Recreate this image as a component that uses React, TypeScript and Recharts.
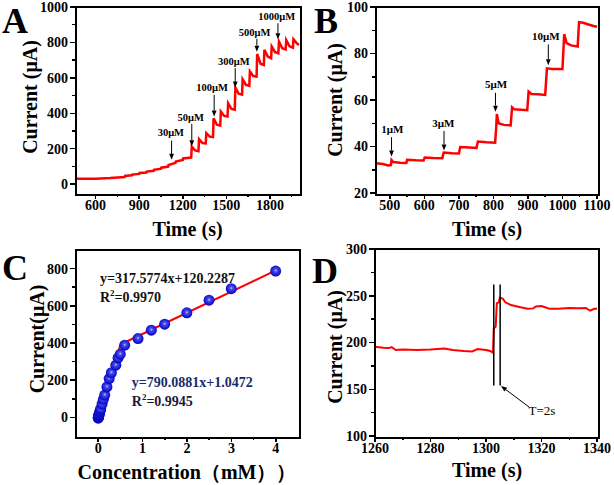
import React from 'react';
import {
  LineChart,
  ComposedChart,
  Line,
  Scatter,
  XAxis,
  YAxis,
  ReferenceLine,
  ReferenceDot,
} from 'recharts';

const SERIF = "'Times New Roman', 'Liberation Serif', 'DejaVu Serif', serif";
const RED = '#ff0000';

// ---------------- Panel A ----------------
const timeA = [465, 600, 700, 800, 802, 850, 852, 900, 902, 950, 952, 1000, 1002, 1050, 1052, 1100, 1102, 1150, 1152, 1200, 1202, 1258, 1262, 1285, 1308, 1312, 1335, 1358, 1362, 1385, 1408, 1412, 1435, 1458, 1462, 1485, 1508, 1512, 1535, 1558, 1562, 1585, 1608, 1612, 1635, 1658, 1662, 1685, 1708, 1712, 1735, 1758, 1762, 1785, 1808, 1812, 1835, 1858, 1862, 1885, 1908, 1912, 1935, 1958, 1962, 1985, 2000];
const currentA = [30, 31, 34, 40, 46, 50, 54, 58, 63, 66, 71, 75, 81, 87, 93, 99, 108, 120, 128, 136, 145, 150, 212, 190, 186, 254, 232, 230, 288, 268, 266, 372, 335, 330, 410, 385, 382, 457, 425, 420, 545, 510, 505, 592, 560, 555, 636, 610, 607, 735, 680, 673, 758, 720, 711, 777, 745, 739, 805, 767, 760, 814, 778, 770, 818, 795, 786];
const domainAX = [465, 2000];
const domainAY = [-50, 1000];
const ticksAX = [600, 900, 1200, 1500, 1800];
const minorAX = [750, 1050, 1350, 1650, 1950];
const ticksAY = [0, 200, 400, 600, 800, 1000];
const minorAY = [100, 300, 500, 700, 900];
const labelsA = ['30μM', '50μM', '100μM', '300μM', '500μM', '1000μM'];
const labelTimeA = [1118, 1255, 1402, 1552, 1694, 1846];
const labelCurrentA = [291, 378, 547, 696, 858, 946];
const arrowTimeA = [1123, 1262, 1416, 1561, 1710, 1855];
const arrowTopA = [246, 340, 504, 655, 820, 908];
const arrowTipA = [137, 214, 382, 545, 748, 818];

// ---------------- Panel B ----------------
const timeB = [460, 480, 495, 503, 505, 510, 530, 548, 550, 575, 598, 601, 625, 652, 656, 680, 700, 704, 730, 751, 755, 780, 805, 808, 810, 815, 830, 850, 854, 860, 880, 898, 902, 910, 930, 950, 955, 970, 1000, 1005, 1012, 1025, 1044, 1048, 1060, 1075, 1090, 1100];
const currentB = [32.8, 32.5, 31.8, 32.0, 34.2, 33.3, 33.0, 32.9, 34.3, 34.1, 34.0, 35.3, 35.1, 35.0, 37.4, 37.1, 37.0, 39.8, 39.6, 39.4, 42.1, 41.8, 41.6, 48.0, 54.0, 50.0, 49.3, 49.1, 56.8, 56.0, 55.8, 55.6, 63.6, 62.6, 62.5, 62.2, 73.6, 73.3, 73.3, 88.3, 84.5, 83.5, 83.0, 93.5, 93.2, 92.5, 91.8, 91.5];
const domainBX = [460, 1100];
const domainBY = [20, 100];
const ticksBX = [500, 600, 700, 800, 900, 1000, 1100];
const minorBX = [550, 650, 750, 850, 950, 1050];
const ticksBY = [20, 40, 60, 80, 100];
const minorBY = [30, 50, 70, 90];
const labelsB = ['1μM', '3μM', '5μM', '10μM'];
const labelTimeB = [507, 655, 808, 952];
const labelCurrentB = [47.4, 50, 66.7, 87.4];
const arrowTimeB = [505, 657, 806, 959];
const arrowTopB = [44, 46.7, 63.1, 83.9];
const arrowTipB = [35.7, 38.3, 55, 75];

// ---------------- Panel C ----------------
const concC = [0.001, 0.002, 0.003, 0.006, 0.009, 0.012, 0.017, 0.022, 0.027, 0.037, 0.047, 0.057, 0.087, 0.117, 0.147, 0.197, 0.247, 0.297, 0.397, 0.447, 0.497, 0.597, 0.897, 1.197, 1.497, 1.997, 2.497, 2.997, 3.997];
const currentC = [-4, -1, 1, 3, 6, 9, 13, 17, 22, 30, 38, 47, 72, 97, 120, 164, 209, 240, 281, 320, 340, 388, 424, 469, 501, 562, 630, 692, 787];
const fitLowX = [0, 0.5];
const fitLowY = [-10, 392];
const fitHighX = [0.5, 4];
const fitHighY = [392, 790];
const domainCX = [-0.5, 4.5];
const domainCY = [-100, 900];
const ticksCX = [0, 1, 2, 3, 4];
const minorCX = [0.5, 1.5, 2.5, 3.5];
const ticksCY = [0, 200, 400, 600, 800];
const minorCY = [100, 300, 500, 700];
const eqHigh = 'y=317.5774x+120.2287';
const r2High = '=0.9970';
const eqLow = 'y=790.0881x+1.0472';
const r2Low = '=0.9945';

// ---------------- Panel D ----------------
const timeD = [1260, 1263, 1265, 1266, 1267.5, 1270, 1275, 1280, 1285, 1288, 1292, 1295, 1297, 1300, 1301.5, 1302.5, 1302.8, 1303.5, 1303.9, 1304.6, 1305, 1306, 1307, 1309, 1312, 1315, 1317, 1318, 1320, 1321, 1323, 1326, 1330, 1333, 1336, 1337.5, 1339, 1340];
const currentD = [195.5, 194.5, 194, 195, 192, 192.5, 192, 192.5, 193.5, 192, 191, 190.5, 193, 192, 191, 189, 215, 217, 242, 243, 248, 247, 243, 240, 238, 236, 236.5, 238.5, 239, 238, 236, 236, 237, 236.5, 237, 234, 236, 236];
const domainDX = [1260, 1340];
const domainDY = [100, 300];
const ticksDX = [1260, 1280, 1300, 1320, 1340];
const minorDX = [1270, 1290, 1310, 1330];
const ticksDY = [100, 150, 200, 250, 300];
const minorDY = [125, 175, 225, 275];
const markerTimesD = [1302.8, 1305.1];
const markerRangeD = [154, 262];
const responseLabel = 'T=2s';

// ---------- tables ----------
const dataA = timeA.map((t, i) => ({ t, i: currentA[i] }));
const dataB = timeB.map((t, i) => ({ t, i: currentB[i] }));
const dataC = concC.map((x, i) => ({ x, y: currentC[i] }));
const fitLow = fitLowX.map((x, i) => ({ x, y: fitLowY[i] }));
const fitHigh = fitHighX.map((x, i) => ({ x, y: fitHighY[i] }));
const dataD = timeD.map((t, i) => ({ t, i: currentD[i] }));

// ---------- helpers ----------
const TICK_FONT = { fontFamily: SERIF, fontWeight: 'bold', fontSize: 14, fill: '#000' };
const hideMinor = (majors: number[]) => (v: number) => (majors.includes(v) ? String(v) : '');

const segLine = (w: number) => (props: any) => {
  const { x1, y1, x2, y2 } = props;
  return <line x1={x1} y1={y1} x2={x2} y2={y2} stroke="#000" strokeWidth={w} />;
};

const arrowShape = (props: any) => {
  const { x1, y1, x2, y2 } = props;
  const ang = Math.atan2(y2 - y1, x2 - x1);
  const L = 6;
  const W = 2.4;
  const bx = x2 - L * Math.cos(ang);
  const by = y2 - L * Math.sin(ang);
  const px = -Math.sin(ang) * W;
  const py = Math.cos(ang) * W;
  return (
    <g>
      <line x1={x1} y1={y1} x2={bx} y2={by} stroke="#000" strokeWidth={1} />
      <polygon points={`${x2},${y2} ${bx + px},${by + py} ${bx - px},${by - py}`} fill="#000" />
    </g>
  );
};

const textShape = (txt: string, size: number, weight: string, anchor: string, color = '#000') => (props: any) => (
  <text x={props.cx} y={props.cy} dy="0.35em" textAnchor={anchor} fontFamily={SERIF} fontWeight={weight} fontSize={size} fill={color}>
    {txt}
  </text>
);

const r2Shape = (rest: string, color: string) => (props: any) => (
  <text x={props.cx} y={props.cy} dy="0.35em" fontFamily={SERIF} fontWeight="bold" fontSize={14} fill={color}>
    R<tspan dy={-6} fontSize={9}>2</tspan>
    <tspan dy={6}>{rest}</tspan>
  </text>
);

const Ball = (props: any) => {
  const { cx, cy } = props;
  return (
    <g>
      <defs>
        <radialGradient id="ballGrad" cx="50%" cy="45%" r="55%">
          <stop offset="0%" stopColor="#c8c8dc" />
          <stop offset="25%" stopColor="#4a4af0" />
          <stop offset="100%" stopColor="#0000c0" />
        </radialGradient>
      </defs>
      <circle cx={cx} cy={cy} r={5.5} fill="url(#ballGrad)" />
    </g>
  );
};

const Title = ({ x, y, rotate = 0, size = 20, weight = 'bold', children }: any) => (
  <div
    style={{
      position: 'absolute',
      left: x,
      top: y,
      transform: `translate(-50%, -50%) rotate(${rotate}deg)`,
      fontFamily: SERIF,
      fontWeight: weight,
      fontSize: size,
      whiteSpace: 'nowrap',
      lineHeight: 1,
      color: '#000',
    }}
  >
    {children}
  </div>
);

// Plot frame with outward tick marks, laid over a plot box (page pixels) using the axis domains.
const Frame = ({ box, xd, yd, xMaj, xMin, yMaj, yMin }: any) => {
  const [x0, y0, x1, y1] = box;
  const px = (v: number) => x0 + ((v - xd[0]) / (xd[1] - xd[0])) * (x1 - x0);
  const py = (v: number) => y1 - ((v - yd[0]) / (yd[1] - yd[0])) * (y1 - y0);
  const marks: any[] = [];
  xMaj.forEach((v: number) => marks.push({ k: 'xM' + v, l: px(v) - 0.75, t: y1 + 1, w: 1.5, h: 5 }));
  xMin.forEach((v: number) => marks.push({ k: 'xm' + v, l: px(v) - 0.75, t: y1 + 1, w: 1.5, h: 3 }));
  yMaj.forEach((v: number) => marks.push({ k: 'yM' + v, l: x0 - 6, t: py(v) - 0.75, w: 5, h: 1.5 }));
  yMin.forEach((v: number) => marks.push({ k: 'ym' + v, l: x0 - 4, t: py(v) - 0.75, w: 3, h: 1.5 }));
  return (
    <>
      <div style={{ position: 'absolute', left: x0 - 1, top: y0 - 1, width: x1 - x0, height: y1 - y0, border: '2px solid #000', pointerEvents: 'none' }} />
      {marks.map((m) => (
        <div key={m.k} style={{ position: 'absolute', left: m.l, top: m.t, width: m.w, height: m.h, background: '#000', pointerEvents: 'none' }} />
      ))}
    </>
  );
};

const xAxisFor = (key: string, dom: number[], maj: number[], min: number[]) => (
  <XAxis type="number" dataKey={key} domain={dom} ticks={[...maj, ...min]} interval={0}
    tickFormatter={hideMinor(maj)} tick={TICK_FONT} stroke="#000" tickLine={false} tickSize={5} tickMargin={2} axisLine={false} height={49} />
);
const yAxisFor = (dom: number[], maj: number[], min: number[], w: number, key?: string) => (
  <YAxis type="number" dataKey={key} domain={dom} ticks={[...maj, ...min]} interval={0}
    tickFormatter={hideMinor(maj)} tick={TICK_FONT} stroke="#000" tickLine={false} tickSize={5} tickMargin={3} axisLine={false} width={w} />
);

export default function App() {
  return (
    <div style={{ position: 'absolute', left: 0, top: 0, width: 614, height: 485 }}>
      {/* Panel A */}
      <div style={{ position: 'absolute', left: 0, top: 0 }}>
        <LineChart width={307} height={242} data={dataA} margin={{ top: 7, right: 8, bottom: 0, left: 0 }}>
          {xAxisFor('t', domainAX, ticksAX, minorAX)}
          {yAxisFor(domainAY, ticksAY, minorAY, 76)}
          <Line type="linear" dataKey="i" stroke={RED} strokeWidth={2.5} dot={false} isAnimationActive={false} />
          {labelsA.map((lab, k) => (
            <ReferenceLine key={'aa' + k} segment={[{ x: arrowTimeA[k], y: arrowTopA[k] }, { x: arrowTimeA[k], y: arrowTipA[k] }]} shape={arrowShape} ifOverflow="visible" />
          ))}
          {labelsA.map((lab, k) => (
            <ReferenceDot key={'al' + k} x={labelTimeA[k]} y={labelCurrentA[k]} r={0} shape={textShape(lab, 10.5, 'bold', 'middle')} ifOverflow="visible" />
          ))}
        </LineChart>
      </div>

      {/* Panel B */}
      <div style={{ position: 'absolute', left: 307, top: 0 }}>
        <LineChart width={307} height={242} data={dataB} margin={{ top: 7, right: 17, bottom: 0, left: 0 }}>
          {xAxisFor('t', domainBX, ticksBX, minorBX)}
          {yAxisFor(domainBY, ticksBY, minorBY, 69)}
          <Line type="linear" dataKey="i" stroke={RED} strokeWidth={2.5} dot={false} isAnimationActive={false} />
          {labelsB.map((lab, k) => (
            <ReferenceLine key={'ba' + k} segment={[{ x: arrowTimeB[k], y: arrowTopB[k] }, { x: arrowTimeB[k], y: arrowTipB[k] }]} shape={arrowShape} ifOverflow="visible" />
          ))}
          {labelsB.map((lab, k) => (
            <ReferenceDot key={'bl' + k} x={labelTimeB[k]} y={labelCurrentB[k]} r={0} shape={textShape(lab, 11, 'bold', 'middle')} ifOverflow="visible" />
          ))}
        </LineChart>
      </div>

      {/* Panel C */}
      <div style={{ position: 'absolute', left: 0, top: 242 }}>
        <ComposedChart width={307} height={243} margin={{ top: 8, right: 9, bottom: 0, left: 0 }}>
          {xAxisFor('x', domainCX, ticksCX, minorCX)}
          {yAxisFor(domainCY, ticksCY, minorCY, 76, 'y')}
          <Scatter data={dataC} dataKey="y" shape={Ball} isAnimationActive={false} />
          <Line data={fitLow} dataKey="y" type="linear" stroke={RED} strokeWidth={2} dot={false} isAnimationActive={false} />
          <Line data={fitHigh} dataKey="y" type="linear" stroke={RED} strokeWidth={2} dot={false} isAnimationActive={false} />
          <ReferenceDot x={0.04} y={751} r={0} shape={textShape(eqHigh, 14, 'bold', 'start', '#111')} ifOverflow="visible" />
          <ReferenceDot x={0.04} y={648} r={0} shape={r2Shape(r2High, '#111')} ifOverflow="visible" />
          <ReferenceDot x={0.756} y={191} r={0} shape={textShape(eqLow, 14, 'bold', 'start', '#1b2a6b')} ifOverflow="visible" />
          <ReferenceDot x={0.756} y={88} r={0} shape={r2Shape(r2Low, '#1a1a3a')} ifOverflow="visible" />
        </ComposedChart>
      </div>

      {/* Panel D */}
      <div style={{ position: 'absolute', left: 307, top: 242 }}>
        <LineChart width={307} height={243} data={dataD} margin={{ top: 7, right: 17, bottom: 0, left: 0 }}>
          {xAxisFor('t', domainDX, ticksDX, minorDX)}
          {yAxisFor(domainDY, ticksDY, minorDY, 68)}
          <Line type="linear" dataKey="i" stroke={RED} strokeWidth={2} dot={false} isAnimationActive={false} />
          {markerTimesD.map((t, k) => (
            <ReferenceLine key={'dm' + k} segment={[{ x: t, y: markerRangeD[0] }, { x: t, y: markerRangeD[1] }]} shape={segLine(1.5)} ifOverflow="visible" />
          ))}
          <ReferenceLine segment={[{ x: 1315.5, y: 131 }, { x: 1305.4, y: 153.5 }]} shape={arrowShape} ifOverflow="visible" />
          <ReferenceDot x={1315.3} y={127} r={0} shape={textShape(responseLabel, 13, 'normal', 'start')} ifOverflow="visible" />
        </LineChart>
      </div>

      {/* Frames and tick marks */}
      <Frame box={[76, 7, 299, 193]} xd={domainAX} yd={domainAY} xMaj={ticksAX} xMin={minorAX} yMaj={ticksAY} yMin={minorAY} />
      <Frame box={[376, 7, 597, 193]} xd={domainBX} yd={domainBY} xMaj={ticksBX} xMin={minorBX} yMaj={ticksBY} yMin={minorBY} />
      <Frame box={[76, 250, 298, 436]} xd={domainCX} yd={domainCY} xMaj={ticksCX} xMin={minorCX} yMaj={ticksCY} yMin={minorCY} />
      <Frame box={[375, 249, 597, 436]} xd={domainDX} yd={domainDY} xMaj={ticksDX} xMin={minorDX} yMaj={ticksDY} yMin={minorDY} />

      {/* Titles */}
      <Title x={187.5} y={229}>Time (s)</Title>
      <Title x={30} y={97} rotate={-90}>Current (μA)</Title>
      <Title x={487} y={229}>Time (s)</Title>
      <Title x={335} y={100} rotate={-90}>Current (μA)</Title>
      <Title x={187} y={472}>Concentration（mM））</Title>
      <Title x={37} y={339} rotate={-90}>Current(μA)</Title>
      <Title x={487} y={470}>Time (s)</Title>
      <Title x={335} y={347} rotate={-90}>Current (μA)</Title>

      {/* Panel letters */}
      <Title x={15} y={21} size={36}>A</Title>
      <Title x={326} y={21} size={36}>B</Title>
      <Title x={15} y={268} size={36}>C</Title>
      <Title x={325} y={271} size={36}>D</Title>
    </div>
  );
}
